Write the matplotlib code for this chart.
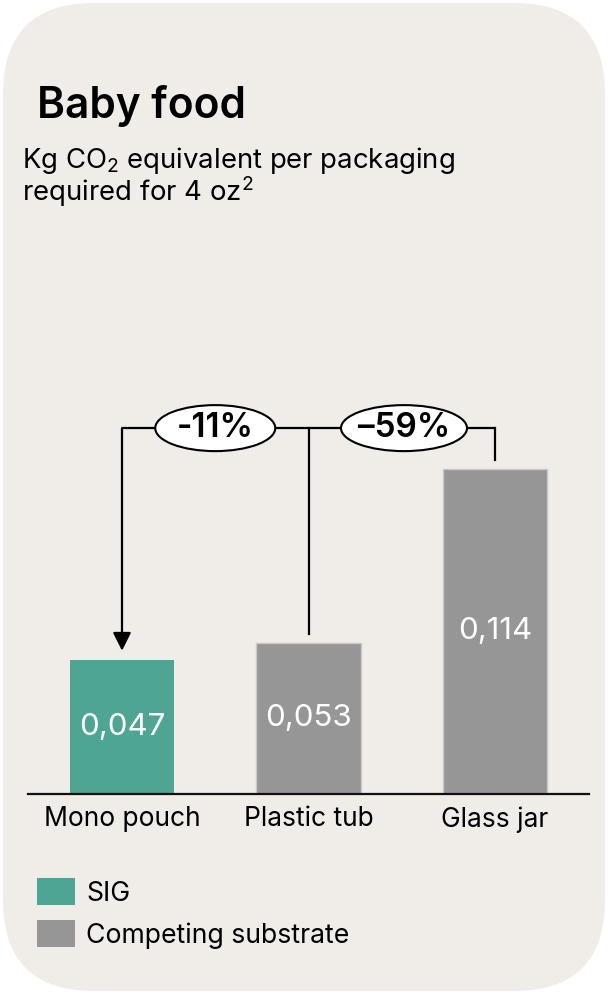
import matplotlib
matplotlib.use("Agg")
import matplotlib.pyplot as plt
from matplotlib.patches import FancyBboxPatch, Ellipse, Patch

plt.rcParams['font.family'] = ['Inter', 'DejaVu Sans']
plt.rcParams['mathtext.fontset'] = 'custom'
plt.rcParams['mathtext.rm'] = 'Inter'
plt.rcParams['mathtext.it'] = 'Inter'
plt.rcParams['mathtext.bf'] = 'Inter'
plt.rcParams['mathtext.default'] = 'rm'

# ---- data ----
categories = ["Mono pouch", "Plastic tub", "Glass jar"]
values = [0.047, 0.053, 0.114]
value_labels = ["0,047", "0,053", "0,114"]
is_sig = [True, False, False]
changes = ["-11%", "\u201359%"]
title = "Baby food"
subtitle_1 = r"Kg CO$_2$ equivalent per packaging"
subtitle_2 = r"required for 4 oz$^2$"
legend_labels = ["SIG", "Competing substrate"]

# ---- style ----
SIG_COL = "#4fa593"
COMP_COL = "#969696"
BG = "#f0ede8"

W, H = 608, 994
fig = plt.figure(figsize=(W / 100, H / 100), dpi=100)
fig.patch.set_facecolor("white")

card = FancyBboxPatch((3 / W, 3 / H), (W - 6) / W, (H - 6) / H,
                      boxstyle="round,pad=0,rounding_size=0.15",
                      transform=fig.transFigure, facecolor=BG, edgecolor="none",
                      mutation_aspect=W / H, zorder=-10)
fig.patches.append(card)

ax = fig.add_axes([28 / W, 1 - 794 / H, 561 / W, 414 / H])
ax.set_zorder(1)
ax.set_facecolor("none")
ax.set_xlim(-0.504, 2.504)
ax.set_ylim(0, 0.14506)
x = list(range(len(categories)))
colors = [SIG_COL if s else COMP_COL for s in is_sig]
bars = ax.bar(x, values, width=0.558, color=colors,
              edgecolor=["none" if s else "#c9c9c9" for s in is_sig], linewidth=1)

for xi, v, lab in zip(x, values, value_labels):
    ax.text(xi, v / 2, lab, ha="center", va="center", color="white",
            fontsize=22.5, fontweight="normal")

for s in ["top", "right", "left"]:
    ax.spines[s].set_visible(False)
ax.spines["bottom"].set_linewidth(1.6)
ax.spines["bottom"].set_color("#111111")
ax.set_yticks([])
ax.set_xticks(x)
ax.set_xticklabels(categories, fontsize=19)
ax.tick_params(axis="x", length=0, pad=9)

# bracket
by = 0.1282
gap = 0.0032
lw = 1.6
ax.plot([x[0], x[2]], [by, by], color="black", lw=lw, solid_capstyle="butt")
ax.plot([x[1], x[1]], [by, values[1] + gap], color="black", lw=lw)
ax.plot([x[2], x[2]], [by, values[2] + gap], color="black", lw=lw)
ax.annotate("", xy=(x[0], values[0] + gap), xytext=(x[0], by),
            arrowprops=dict(arrowstyle="-|>,head_length=1.0,head_width=0.5",
                            mutation_scale=11, color="black", lw=lw,
                            shrinkA=0, shrinkB=0))

ew = [120 / 186.5, 126 / 186.5]
for i, (lab, w) in enumerate(zip(changes, ew)):
    cx = (x[i] + x[i + 1]) / 2
    if i == 1:
        cx += 0.012
    e = Ellipse((cx, by), w, 46 / 2854, facecolor="white", edgecolor="black",
                lw=1.5, zorder=5)
    ax.add_patch(e)
    ax.text(cx, by, lab, ha="center", va="center", fontsize=24,
            fontweight="semibold", zorder=6)

# titles
fig.text(37 / W, 1 - 106 / H, title, fontsize=30.5, fontweight="semibold",
         va="center", ha="left")
fig.text(22 / W, 1 - 160 / H, subtitle_1, fontsize=19.8, va="center", ha="left")
fig.text(22 / W, 1 - 192 / H, subtitle_2, fontsize=19.8, va="center", ha="left")

# legend
handles = [Patch(facecolor=SIG_COL), Patch(facecolor=COMP_COL)]
leg = fig.legend(handles, legend_labels, loc="upper left",
                 bbox_to_anchor=(37 / W, 1 - 878 / H), frameon=False,
                 fontsize=19.2, handlelength=1.42, handleheight=1.2,
                 handletextpad=0.42, labelspacing=0.5, borderaxespad=0,
                 borderpad=0)

fig.savefig("out.png", dpi=100, facecolor="white")
